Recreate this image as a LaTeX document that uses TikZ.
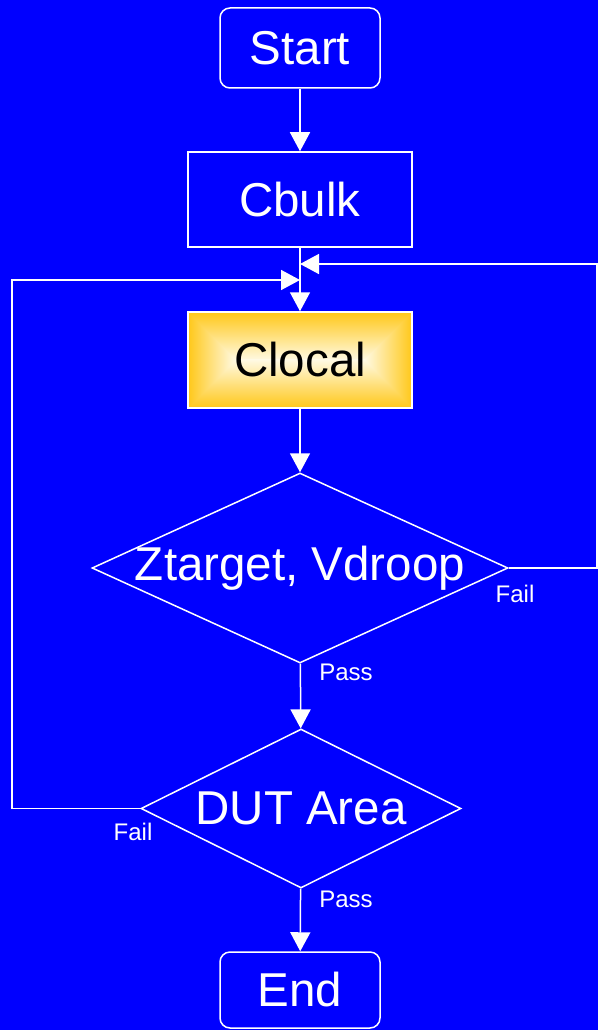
\documentclass[tikz,border=0pt]{standalone}
\usepackage{fontspec}
\setmainfont{Liberation Sans}
\usetikzlibrary{arrows.meta,shapes.geometric}
\definecolor{bgblue}{RGB}{0,0,255}
\definecolor{goldedge}{RGB}{255,200,25}
\definecolor{goldcore}{RGB}{255,250,230}
\tikzset{
  bigtext/.style={font=\fontsize{47.5}{54}\selectfont, text=white},
  smalltext/.style={font=\fontsize{24}{28}\selectfont, text=white, inner sep=0pt},
  terminal/.style={bigtext, draw=white, line width=1.5pt, rounded corners=10pt,
    minimum width=160pt, minimum height=80pt, inner sep=0pt},
  process/.style={bigtext, draw=white, line width=1.5pt,
    minimum width=224pt, minimum height=95pt, inner sep=0pt},
  decision/.style={bigtext, diamond, draw=white, line width=1.5pt, inner sep=0pt},
  arr/.style={draw=white, line width=1.5pt,
    -{Triangle[width=20pt,length=19pt,fill=white]}},
}
\begin{document}
\begin{tikzpicture}[x=1pt,y=-1pt]
  % canvas
  \fill[bgblue] (0,0) rectangle (598,1030);
  \useasboundingbox (0,0) rectangle (598,1030);

  % rectangular gold gradient behind the Clocal box:
  % two vertical halves meeting in the cream middle, then the side wedges
  \shade[top color=goldedge, bottom color=goldcore]
    (188,312) rectangle (412,361);
  \shade[top color=goldcore, bottom color=goldedge]
    (188,359) rectangle (412,408);
  \shade[left color=goldedge, right color=goldcore]
    (188,312) -- (236,360) -- (188,408) -- cycle;
  \shade[left color=goldcore, right color=goldedge]
    (412,312) -- (364,360) -- (412,408) -- cycle;

  % nodes
  \node[terminal] (start) at (300,48) {Start};
  \node[process] (cbulk) at (300,199.5) {Cbulk};
  \node[process, minimum height=96pt, text=black] (clocal) at (300,360) {Clocal};
  \node[decision, minimum width=416pt, minimum height=190pt] (d1) at (300,568)
    {\makebox[0pt]{Ztarget, Vdroop}};
  \node[decision, minimum width=320pt, minimum height=159pt] (d2) at (301,808.5)
    {\makebox[0pt]{DUT Area}};
  \node[terminal, minimum height=76pt] (end) at (300,990) {End};

  % merge points on the feed into Clocal
  \coordinate (rin) at (300,264);
  \coordinate (lin) at (300,280);
  \coordinate (rc) at (597,264);
  \coordinate (lc) at (12,280);

  % connectors
  \draw[arr] (start) -- (cbulk);
  \draw[arr] (cbulk) -- (clocal);
  \draw[arr] (clocal) -- (d1);
  \draw[arr] (d1) -- (d2);
  \draw[arr] (d2) -- (end);
  \draw[arr] (d1.east) -| (rc) -- (rin);
  \draw[arr] (d2.west) -| (lc) -- (lin);

  % branch labels
  \node[smalltext] (fail1) at (515,594) {Fail};
  \node[smalltext] (pass1) at (346,672) {Pass};
  \node[smalltext] (fail2) at (133,832) {Fail};
  \node[smalltext] (pass2) at (346,899) {Pass};
\end{tikzpicture}
\end{document}
